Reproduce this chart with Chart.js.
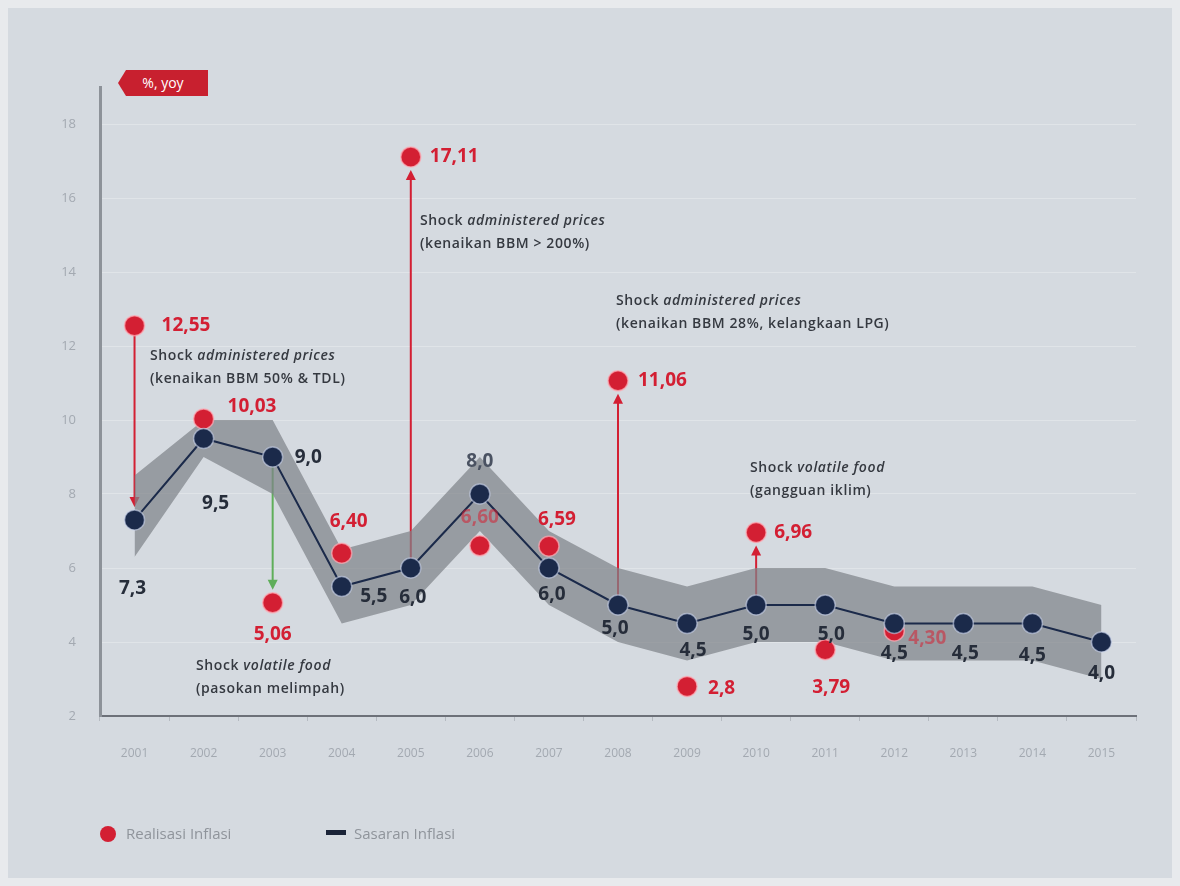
<!DOCTYPE html>
<html>
<head>
<meta charset="utf-8">
<script src="https://cdn.jsdelivr.net/npm/chart.js@4/dist/chart.umd.min.js"></script>
<style>
  html, body { margin: 0; padding: 0; background: #e8eaed; }
  #panel {
    position: absolute; left: 8px; top: 8px; width: 1164px; height: 870px;
    background: #d5dae0;
  }
  #wrap { position: absolute; left: 0; top: 0; width: 1180px; height: 886px; }
  .note {
    position: absolute; font-family: "Open Sans", "Noto Sans", sans-serif;
    font-size: 14px; font-weight: 600; color: #353940; line-height: 23px;
    white-space: nowrap; letter-spacing: 0.6px;
  }
  .note i { font-style: italic; }
  #tag {
    position: absolute; left: 118px; top: 70px; width: 90px; height: 26px;
    background: #c8202f; color: #fff; font: 14px "Open Sans", sans-serif;
    line-height: 26px; text-align: center;
    clip-path: polygon(8px 0, 100% 0, 100% 100%, 8px 100%, 0 50%);
  }
  .legend { position: absolute; top: 823px; font: 15px "Open Sans", sans-serif; color: #8f949b; }
</style>
</head>
<body>
<div id="panel"></div>
<div id="wrap"><canvas id="c" width="1180" height="886"></canvas></div>
<div id="tag">%, yoy</div>

<div class="note" style="left:150px; top:343px;">Shock <i>administered prices</i><br>(kenaikan BBM 50% &amp; TDL)</div>
<div class="note" style="left:420px; top:208px;">Shock <i>administered prices</i><br>(kenaikan BBM &gt; 200%)</div>
<div class="note" style="left:616px; top:288px;">Shock <i>administered prices</i><br>(kenaikan BBM 28%, kelangkaan LPG)</div>
<div class="note" style="left:196px; top:653px;">Shock <i>volatile food</i><br>(pasokan melimpah)</div>
<div class="note" style="left:750px; top:455px;">Shock <i>volatile food</i><br>(gangguan iklim)</div>

<div class="legend" style="left:100px;"><span style="display:inline-block;width:16px;height:16px;border-radius:50%;background:#d31f33;vertical-align:-3px;margin-right:10px;"></span>Realisasi Inflasi</div>
<div class="legend" style="left:326px;"><span style="display:inline-block;width:20px;height:5px;background:#1b2438;vertical-align:4px;margin-right:8px;"></span>Sasaran Inflasi</div>

<script>
// Sasaran vs realisasi inflasi, 2001-2015 (% yoy)
const years = ['2001', '2002', '2003', '2004', '2005', '2006', '2007', '2008',
               '2009', '2010', '2011', '2012', '2013', '2014', '2015'];
const sasaran = [7.3, 9.5, 9.0, 5.5, 6.0, 8.0, 6.0, 5.0, 4.5, 5.0, 5.0, 4.5, 4.5, 4.5, 4.0];
const sasaranLabels = ['7,3', '9,5', '9,0', '5,5', '6,0', '8,0', '6,0', '5,0',
                       '4,5', '5,0', '5,0', '4,5', '4,5', '4,5', '4,0'];
const realisasi = [12.55, 10.03, 5.06, 6.40, 17.11, 6.60, 6.59, 11.06, 2.8, 6.96, 3.79, 4.30,
                   null, null, null];
const realisasiLabels = ['12,55', '10,03', '5,06', '6,40', '17,11', '6,60', '6,59', '11,06',
                         '2,8', '6,96', '3,79', '4,30', '', '', ''];
// rentang sasaran (batas atas / bawah)
const batasAtas = [8.5, 10, 10, 6.5, 7, 9, 7, 6, 5.5, 6, 6, 5.5, 5.5, 5.5, 5];
const batasBawah = [6.3, 9, 8, 4.5, 5, 7, 5, 4, 3.5, 4, 4, 3.5, 3.5, 3.5, 3];
const yTicks = [2, 4, 6, 8, 10, 12, 14, 16, 18];

const RED = '#d31f33';
const NAVY = '#1b2a4a';
const GREEN = '#5fae5a';

// panah shock: dari sasaran ke realisasi (atau sebaliknya untuk 2001)
const shockArrows = [
  { i: 0, color: RED, toTarget: true },
  { i: 2, color: GREEN, toTarget: false },
  { i: 4, color: RED, toTarget: false },
  { i: 7, color: RED, toTarget: false },
  { i: 9, color: RED, toTarget: false }
];

const arrowPlugin = {
  id: 'shockArrows',
  beforeDatasetsDraw(chart) {
    const { ctx, scales: { x, y } } = chart;
    shockArrows.forEach(a => {
      const px = x.getPixelForValue(a.i);
      const yt = y.getPixelForValue(sasaran[a.i]);
      const yr = y.getPixelForValue(realisasi[a.i]);
      const y0 = a.toTarget ? yr : yt;
      const y1 = a.toTarget ? yt : yr;
      const dir = Math.sign(y1 - y0);
      const tip = y1 - dir * 13;
      ctx.save();
      ctx.strokeStyle = a.color;
      ctx.fillStyle = a.color;
      ctx.lineWidth = 2;
      ctx.beginPath();
      ctx.moveTo(px, y0);
      ctx.lineTo(px, tip - dir * 6);
      ctx.stroke();
      ctx.beginPath();
      ctx.moveTo(px, tip);
      ctx.lineTo(px - 5, tip - dir * 10);
      ctx.lineTo(px + 5, tip - dir * 10);
      ctx.closePath();
      ctx.fill();
      ctx.restore();
    });
  }
};

// posisi teks nilai relatif terhadap titik
const realOffsets = [[27, 0, 'left'], [24, -12, 'left'], [0, 32, 'center'], [7, -32, 'center'],
  [19, 0, 'left'], [0, -28, 'center'], [8, -27, 'center'], [20, 0, 'left'],
  [21, 2, 'left'], [18, 0, 'left'], [6, 38, 'center'], [14, 8, 'left']];
const targetOffsets = [[-2, 69, 'center'], [12, 65, 'center'], [22, 1, 'left'], [32, 10, 'center'],
  [2, 30, 'center'], [0, -32, 'center'], [3, 27, 'center'], [-3, 24, 'center'],
  [6, 27, 'center'], [0, 30, 'center'], [6, 30, 'center'], [0, 30, 'center'],
  [2, 30, 'center'], [0, 32, 'center'], [0, 32, 'center']];

const labelPlugin = {
  id: 'valueLabels',
  afterDatasetsDraw(chart) {
    const { ctx, scales: { x, y } } = chart;
    ctx.save();
    ctx.textBaseline = 'middle';
    ctx.font = 'bold 19px "Open Sans", "Noto Sans", sans-serif';
    realisasi.forEach((v, i) => {
      if (v === null) return;
      const [dx, dy, align] = realOffsets[i];
      ctx.textAlign = align;
      ctx.fillStyle = (i === 5 || i === 11) ? 'rgba(211,31,51,0.55)' : RED;
      ctx.fillText(realisasiLabels[i], x.getPixelForValue(i) + dx, y.getPixelForValue(v) + dy);
    });
    sasaran.forEach((v, i) => {
      const [dx, dy, align] = targetOffsets[i];
      ctx.textAlign = align;
      ctx.fillStyle = i === 5 ? '#4a5262' : '#262d3a';
      ctx.fillText(sasaranLabels[i], x.getPixelForValue(i) + dx, y.getPixelForValue(v) + dy);
    });
    ctx.restore();
  }
};

new Chart(document.getElementById('c'), {
  type: 'line',
  data: {
    labels: years,
    datasets: [
      {
        label: 'Sasaran Inflasi',
        data: sasaran,
        borderColor: NAVY,
        borderWidth: 2,
        pointRadius: 10,
        pointBackgroundColor: NAVY,
        pointBorderColor: 'rgba(200,210,235,0.6)',
        pointBorderWidth: 1.5,
        tension: 0,
        order: 1
      },
      {
        label: 'Realisasi Inflasi',
        data: realisasi,
        showLine: false,
        pointRadius: 10,
        pointBackgroundColor: RED,
        pointBorderColor: 'rgba(255,170,180,0.7)',
        pointBorderWidth: 1.5,
        order: 2
      },
      {
        label: 'atas',
        data: batasAtas,
        borderWidth: 0,
        pointRadius: 0,
        fill: false,
        order: 3
      },
      {
        label: 'bawah',
        data: batasBawah,
        borderWidth: 0,
        pointRadius: 0,
        fill: '-1',
        backgroundColor: 'rgba(128,131,137,0.72)',
        order: 3
      }
    ]
  },
  options: {
    responsive: false,
    devicePixelRatio: 1,
    animation: false,
    layout: { padding: { top: 87, right: 44, bottom: 120, left: 0 } },
    plugins: {
      legend: { display: false },
      tooltip: { enabled: false }
    },
    scales: {
      x: {
        offset: true,
        afterFit(scale) { scale.height = 50; },
        grid: { drawOnChartArea: false, tickLength: 5, color: '#b5bac1', offset: true },
        border: { display: true, color: '#6d7179', width: 2 },
        ticks: { color: '#a3a9b1', font: { family: 'Open Sans', size: 12 }, padding: 25 }
      },
      y: {
        min: 2,
        max: 19,
        afterFit(scale) { scale.width = 100; },
        afterBuildTicks(scale) { scale.ticks = yTicks.map(v => ({ value: v })); },
        grid: { color: 'rgba(255,255,255,0.28)', lineWidth: 1, drawTicks: false },
        border: { display: true, color: '#8d9299', width: 3 },
        ticks: { color: '#a3a9b1', font: { family: 'Open Sans', size: 13 }, padding: 24 }
      }
    }
  },
  plugins: [arrowPlugin, labelPlugin]
});
</script>
</body>
</html>
